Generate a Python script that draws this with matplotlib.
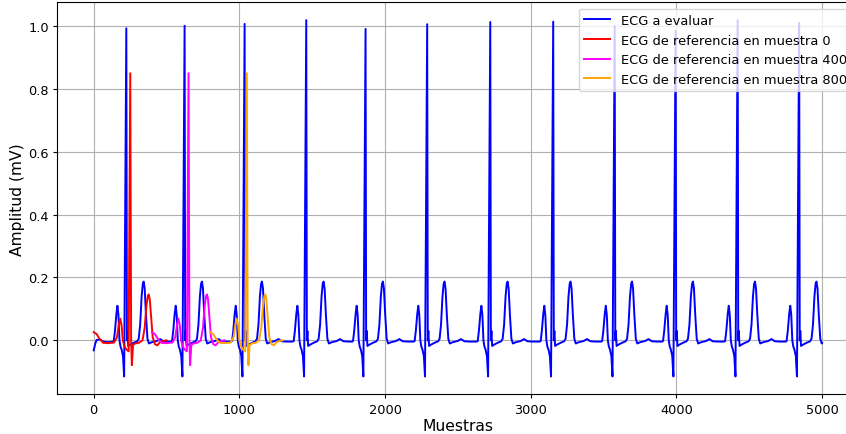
import matplotlib.pyplot as plt
import numpy as np

# values (sample index, mV)

# start of the evaluated ECG, before the first P wave
start_x = [0, 10, 20, 43, 65, 100]
start_y = [-0.032, -0.012, 0.001, 0.003, -0.004, -0.006]

# one beat of the evaluated ECG, relative to its R peak (R value taken from r_amp)
beat_off = [-92, -86, -78, -68, -61, -54, -47, -40, -32, -23, -15, 0, 4, 8, 13, 25,
            50, 75, 85, 95, 105, 113, 119, 126, 135, 145, 155, 175, 210, 232, 255, 290]
beat_val = [-0.004, -0.002, 0.03, 0.085, 0.11, 0.08, 0.0, -0.02, -0.03, -0.05, -0.115, None,
            0.0, 0.03, -0.018, -0.014, -0.008, -0.003, 0.005, 0.05, 0.14, 0.18, 0.187, 0.165,
            0.08, 0.005, -0.01, -0.006, -0.002, 0.004, -0.003, -0.004]

# R peaks of the evaluated ECG
r_pos = [224, 624, 1036, 1459, 1866, 2289, 2722, 3154, 3576, 3994, 4420, 4842]
r_amp = [0.993, 1.001, 1.007, 1.019, 0.991, 1.006, 1.013, 1.014, 1.0, 0.985, 1.019, 1.01]
end_x, end_y = 4999, -0.008

# reference ECG template (500 samples)
ref_x = [0, 20, 40, 65, 100, 140, 160, 172, 182, 192, 200, 210, 226, 240, 251, 257, 262,
         270, 285, 310, 335, 350, 362, 372, 378, 385, 395, 405, 420, 436, 455, 475, 499]
ref_y = [0.026, 0.02, 0.005, -0.008, -0.009, -0.007, 0.01, 0.05, 0.069, 0.045, 0.0, -0.018,
         -0.03, -0.035, 0.85, 0.0, -0.079, -0.015, -0.01, -0.008, 0.0, 0.04, 0.11, 0.142,
         0.146, 0.13, 0.07, 0.01, -0.012, -0.016, -0.006, -0.002, 0.0]
ref_starts = [0, 400, 800]
ref_colors = ["red", "magenta", "orange"]

# build the evaluated ECG
ecg_x = list(start_x)
ecg_y = list(start_y)
for r, a in zip(r_pos, r_amp):
    for o, v in zip(beat_off, beat_val):
        if r + o < end_x:
            ecg_x.append(r + o)
            ecg_y.append(a if v is None else v)
ecg_x.append(end_x)
ecg_y.append(end_y)

fig = plt.figure(figsize=(8.46, 4.35), dpi=100)
# axes run past the right edge, as in the cropped original
ax = fig.add_axes([0.0677, 0.0913, 0.947, 0.9011])

ax.plot(ecg_x, ecg_y, color="blue", lw=1.4, label="ECG a evaluar")
for s, c in zip(ref_starts, ref_colors):
    ax.plot(np.array(ref_x) + s, ref_y, color=c, lw=1.4,
            label="ECG de referencia en muestra " + str(s))

ax.set_xlabel("Muestras", fontsize=11.2, labelpad=1.5)
ax.set_ylabel("Amplitud (mV)", fontsize=11.2, labelpad=2.5)
ax.tick_params(labelsize=9.3, pad=2.8, length=3.2)
ax.grid(True)
ax.legend(loc="upper right", fontsize=9.4)

plt.savefig("out.png", dpi=100)
